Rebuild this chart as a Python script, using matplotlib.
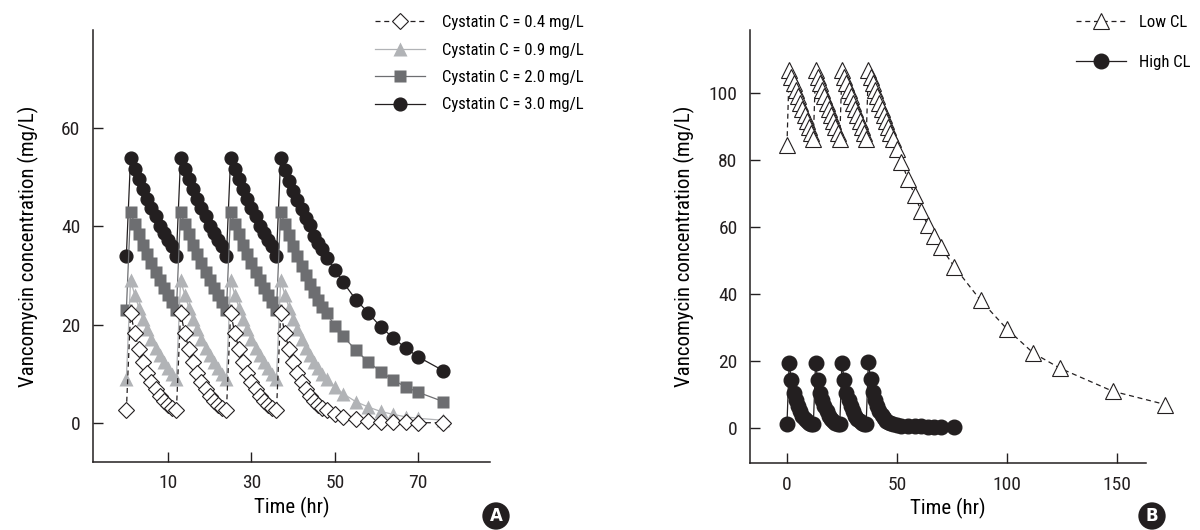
import matplotlib
matplotlib.use('Agg')
import matplotlib.pyplot as plt
from matplotlib import font_manager

# pick a condensed sans if one is installed
names = {f.name for f in font_manager.fontManager.ttflist}
base = 'Liberation Sans'
for cand in ['Liberation Sans Narrow', 'Roboto Condensed', 'Open Sans Condensed']:
    if cand in names:
        base = cand
        break
plt.rcParams['font.family'] = [base, 'DejaVu Sans']

# ---- panel A data (hours) ----
time_a = list(range(0, 49)) + [50, 52, 55, 58, 61, 64, 67, 70, 76]

cys04_cycle = [2.5, 22.4, 18.3, 15.0, 12.3, 10.1, 8.3, 6.8, 5.5, 4.5, 3.7, 3.0]
cys04_tail = [2.5, 22.4, 18.3, 15.0, 12.3, 10.1, 8.3, 6.8, 5.5, 4.5, 3.7, 3.0, 2.5,
              1.7, 1.1, 0.7, 0.4, 0.2, 0.1, 0.1, 0.0, 0.0]
cys09_cycle = [9.0, 29.0, 26.1, 23.4, 21.1, 19.0, 17.0, 15.3, 13.8, 12.4, 11.1, 10.0]
cys09_tail = [9.0, 29.0, 26.1, 23.4, 21.1, 19.0, 17.0, 15.3, 13.8, 12.4, 11.1, 10.0, 9.0,
              7.3, 5.9, 4.3, 3.2, 2.3, 1.7, 1.2, 0.9, 0.5]
cys20_cycle = [23.0, 43.0, 40.5, 38.4, 36.3, 34.4, 32.5, 30.8, 29.1, 27.5, 26.0, 24.5]
cys20_tail = [23.0, 43.0, 40.5, 38.2, 36.0, 33.9, 31.9, 30.0, 28.3, 26.6, 25.1, 23.6, 22.3,
              19.8, 17.6, 14.8, 12.4, 10.4, 8.7, 7.3, 6.2, 4.3]
cys30_cycle = [34.0, 53.9, 51.6, 49.7, 47.6, 45.5, 43.8, 42.1, 40.1, 38.7, 37.3, 36.0]
cys30_tail = [34.0, 53.9, 51.5, 49.2, 47.2, 45.4, 43.6, 41.8, 40.2, 38.0, 36.7, 35.3, 33.6,
              31.2, 28.6, 25.1, 22.4, 19.5, 17.3, 15.2, 13.4, 10.6]

cys04 = cys04_cycle * 3 + cys04_tail
cys09 = cys09_cycle * 3 + cys09_tail
cys20 = cys20_cycle * 3 + cys20_tail
cys30 = cys30_cycle * 3 + cys30_tail

labels_a = ['Cystatin C = 0.4 mg/L', 'Cystatin C = 0.9 mg/L',
            'Cystatin C = 2.0 mg/L', 'Cystatin C = 3.0 mg/L']
xticks_a = [10, 30, 50, 70]
yticks_a = [0, 20, 40, 60]

# ---- panel B data ----
time_high = time_a
time_low = time_a + [88, 100, 112, 124, 148, 172]

low_first = [84.6]
low_cycle = [86.5, 107.0, 105.0, 103.0, 101.0, 99.1, 97.2, 95.3, 93.5, 91.7, 90.0, 88.2]
low_tail = [86.5, 107.0, 105.0, 103.0, 101.0, 99.1, 97.2, 95.3, 93.5, 91.7, 90.0, 88.2, 86.5,
            83.3, 79.6, 74.3, 69.7, 64.7, 60.6, 57.2, 54.0, 48.2,
            38.1, 29.5, 22.3, 17.8, 10.9, 6.9]
high_cycle = [1.0, 19.3, 14.3, 10.4, 8.2, 6.4, 4.9, 3.6, 2.7, 2.0, 1.5, 1.2]
high_tail = [1.0, 19.6, 14.5, 10.6, 8.3, 6.5, 5.0, 3.7, 2.8, 2.1, 1.6, 1.3, 1.0,
             0.8, 0.6, 0.5, 0.4, 0.4, 0.3, 0.3, 0.3, 0.2]

low_cl = low_first + low_cycle[1:] + low_cycle * 2 + low_tail
high_cl = high_cycle * 3 + high_tail

labels_b = ['Low CL', 'High CL']
xticks_b = [0, 50, 100, 150]
yticks_b = [0, 20, 40, 60, 80, 100]

BLACK = '#231f20'
DARK = '#6d6e71'
LIGHT = '#b1b3b6'

fig = plt.figure(figsize=(12, 5.3), dpi=100)
W, H = 1200, 530


def make_axes(left, right, top, bottom):
    return fig.add_axes([left / W, 1 - bottom / H, (right - left) / W, (bottom - top) / H])


def style(ax):
    for s in ['top', 'right']:
        ax.spines[s].set_visible(False)
    for s in ['left', 'bottom']:
        ax.spines[s].set_color(BLACK)
        ax.spines[s].set_linewidth(1.1)
    ax.tick_params(direction='in', length=7, width=1, colors=BLACK, labelsize=14)
    ax.tick_params(axis='y', pad=9)
    ax.tick_params(axis='x', pad=9)


# ---- panel A ----
axa = make_axes(93, 490, 30, 462)
style(axa)
axa.plot(time_a, cys30, '-o', color=BLACK, lw=0.9, ms=9.2, mec=BLACK, zorder=2, label=labels_a[3])
axa.plot(time_a, cys20, '-s', color=DARK, lw=0.9, ms=8.0, mec='none', zorder=3, label=labels_a[2])
axa.plot(time_a, cys09, '-^', color=LIGHT, lw=0.9, ms=9.5, mec='none', zorder=4, label=labels_a[1])
axa.plot(time_a, cys04, '--D', color=BLACK, lw=0.9, ms=7.8, mfc='white', mec=BLACK, mew=0.8,
         dashes=(4, 3), zorder=5, label=labels_a[0])
axa.set_xlim(-8, 87.2)
axa.set_ylim(-8, 80)
axa.set_xticks(xticks_a)
axa.set_yticks(yticks_a)
axa.set_xlabel('Time (hr)', fontsize=15, labelpad=3)
axa.set_ylabel('Vancomycin concentration (mg/L)', fontsize=15, labelpad=16)
h, l = axa.get_legend_handles_labels()
axa.legend(h[::-1], l[::-1], loc='upper left', bbox_to_anchor=(375 / W, 1 - 15 / H),
           bbox_transform=fig.transFigure, frameon=False, fontsize=12,
           handlelength=3.0, handletextpad=1.0, labelspacing=0.75, borderpad=0, borderaxespad=0)

# ---- panel B ----
axb = make_axes(750, 1146, 30, 463)
style(axb)
axb.plot(time_high, high_cl, '-o', color=BLACK, lw=0.9, ms=10.5, zorder=3, clip_on=False, label=labels_b[1])
axb.plot(time_low, low_cl, '--^', color=BLACK, lw=0.9, ms=12, mfc='white', mec=BLACK, mew=0.8,
         dashes=(4, 3), zorder=2, clip_on=False, label=labels_b[0])
axb.set_xlim(-16.8, 163.2)
axb.set_ylim(-10.6, 119)
axb.set_xticks(xticks_b)
axb.set_yticks(yticks_b)
axb.set_xlabel('Time (hr)', fontsize=15, labelpad=3)
axb.set_ylabel('Vancomycin concentration (mg/L)', fontsize=15, labelpad=10)
h, l = axb.get_legend_handles_labels()
axb.legend(h[::-1], l[::-1], loc='upper left', bbox_to_anchor=(1076 / W, 1 - 15 / H),
           bbox_transform=fig.transFigure, frameon=False, fontsize=12,
           handlelength=3.0, handletextpad=0.8, labelspacing=1.5, borderpad=0, borderaxespad=0)

# panel badges
for txt, x in [('A', 496), ('B', 1152)]:
    fig.text(x / W, 1 - 516 / H, txt, color='white', fontsize=12, fontweight='bold',
             ha='center', va='center', family='DejaVu Sans',
             bbox=dict(boxstyle='circle,pad=0.28', fc=BLACK, ec='none'))

fig.savefig('out.png', dpi=100)
